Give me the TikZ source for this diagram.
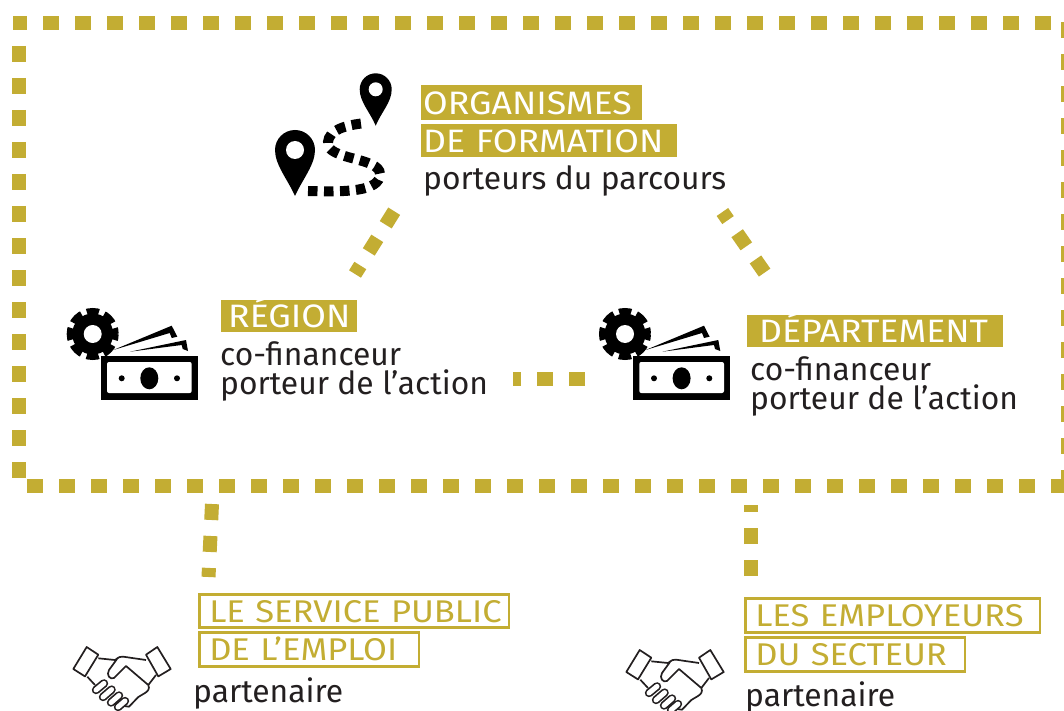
\documentclass[tikz,border=0pt]{standalone}
\usepackage{fontspec}
\setmainfont{Fira Sans}
\newfontfamily\tagfont[FakeStretch=1.1, WordSpace=0.8]{Fira Sans}
\definecolor{gold}{HTML}{C3AD33}
\definecolor{ink}{HTML}{231F20}
\tikzset{
	edgedash/.style={gold, line width=14pt, dash pattern=on 16pt off 16pt},
	tagfill/.style={fill=gold, text=white, anchor=north west, align=left, inner ysep=0pt, text height=23pt, text depth=0pt, font=\tagfont\fontsize{32.4}{32}\selectfont},
	tagline/.style={draw=gold, line width=2.5pt, text=gold, anchor=north west, align=left, inner ysep=0pt, text height=23pt, text depth=0pt, font=\tagfont\fontsize{31.4}{32}\selectfont},
	plain/.style={text=ink, anchor=base west, inner sep=0pt, font=\fontsize{31.8}{29}\selectfont},
	fund/.pic={
		\draw[line width=7pt, dash pattern=on 12pt off 5.67pt, dash phase=6pt] (0,0) circle (22.5);
		\fill (0,0) circle (20.5);
		\fill[white] (0,0) circle (9);
		\fill (20.6,16) -- (79,-8.3) -- (84.6,2.7) -- (79,4) -- (77,-1) -- cycle;
		\fill (37.3,17.7) -- (93.3,6) -- (95.3,17) -- (90,15) -- (89,11) -- cycle;
		\fill (8,21.7) rectangle (105.3,66);
		\fill[white, rounded corners=2pt] (14.3,28) rectangle (99,59);
		\fill (56.6,44.3) ellipse (9 and 11);
		\fill (29,44.3) circle (3);
		\fill (84.3,44.3) circle (3);
	},
	shake/.pic={
		\draw[ink, line width=1.7pt, line join=round] (13.7,0) -- (25.3,7.7) -- (12,29.4) -- (0.3,22) -- cycle;
		\draw[ink, line width=1.7pt, line join=round] (84.3,0) -- (97.7,22) -- (85.3,29.4) -- (73,7.7) -- cycle;
		\draw[ink, line width=1.7pt, line join=round] (25.3,11.3) -- (42,13) .. controls (46,10) and (48,9) .. (50.3,9.7) -- (73,13);
		\draw[ink, line width=1.7pt, line join=round] (44,12) -- (36,23) .. controls (33,28) and (37,33) .. (41,31) -- (53,19) -- (75.3,38) .. controls (77,42) and (75,44) .. (72,46) -- (65.3,50) -- (56,59.7) -- (51,59);
		\draw[ink, line width=1.7pt] (75.3,38) -- (83,28);
		\draw[ink, line width=1.7pt] (14.3,29.7) -- (22,38);
		\draw[ink, line width=1.7pt, double=white, double distance=5pt, line cap=round] (23,43) -- (31,36.4);
		\draw[ink, line width=1.7pt, double=white, double distance=5pt, line cap=round] (30,50) -- (38.6,42.6);
		\draw[ink, line width=1.7pt, double=white, double distance=5pt, line cap=round] (38,55.5) -- (46,48.5);
		\draw[ink, line width=1.7pt, double=white, double distance=5pt, line cap=round] (45,60) -- (52,54);
	}
}
\begin{document}
\begin{tikzpicture}[x=1pt, y=-1pt]
	\useasboundingbox (0,0) rectangle (1064,711);

	% cadre
	\coordinate (topL) at (13,23);
	\coordinate (topR) at (1064,23);
	\coordinate (leftT) at (19,46);
	\coordinate (leftB) at (19,480);
	\coordinate (botL) at (27,486);
	\coordinate (botR) at (1064,486);
	\coordinate (rightT) at (1068,22);
	\coordinate (rightB) at (1068,486);
	\draw[edgedash, dash phase=2pt] (topL) -- (topR);
	\draw[edgedash] (leftT) -- (leftB);
	\draw[edgedash] (botL) -- (botR);
	\draw[edgedash] (rightT) -- (rightB);

	% liens
	\coordinate (orgA) at (394.2,211.2);
	\coordinate (regA) at (355,274);
	\coordinate (orgB) at (764.6,272.6);
	\coordinate (depA) at (722.4,212);
	\coordinate (depB) at (585,379);
	\coordinate (regB) at (513,379);
	\coordinate (regC) at (212,504);
	\coordinate (speC) at (208.5,577);
	\coordinate (empC) at (751,576);
	\coordinate (depC) at (751,505);
	\draw[edgedash] (orgA) -- (regA);
	\draw[edgedash] (orgB) -- (depA);
	\draw[edgedash] (depB) -- (regB);
	\draw[edgedash] (regC) -- (speC);
	\draw[edgedash] (empC) -- (depC);

	% parcours
	\fill (295,196) .. controls (288,180) and (275,165) .. (275,150) arc[start angle=180, end angle=360, radius=20] .. controls (315,165) and (302,180) .. (295,196) -- cycle;
	\fill[white] (295,150) circle (9);
	\fill (375.7,125.7) .. controls (370,112) and (359.7,102) .. (359.7,89.3) arc[start angle=180, end angle=360, radius=16] .. controls (391.7,102) and (381.4,112) .. (375.7,125.7) -- cycle;
	\fill[white] (375.7,89.3) circle (7);
	\draw[line width=10pt, dash pattern=on 9.5pt off 6.5pt] (308,191) .. controls (345,192) and (380,192) .. (380,174) .. controls (380,157) and (325,160) .. (328,142) .. controls (329,130) and (345,125) .. (366,123);

	% icones
	\pic (fundR) at (92.7,334) {fund};
	\pic (fundD) at (625,334) {fund};
	\pic (shakeS) at (73,647) {shake};
	\pic (shakeE) at (626,650) {shake};

	% textes
	\node[tagfill, text width=217pt, inner xsep=2pt, minimum height=35pt] (orgTag) at (421,85) {ORGANISMES};
	\node[tagfill, text width=252pt, inner xsep=2pt, minimum height=33pt] (forTag) at (421,124) {DE FORMATION};
	\node[plain] (orgText) at (423,189.5) {porteurs du parcours};
	\node[tagfill, text width=122pt, inner xsep=7pt, minimum height=32pt] (regTag) at (221,300) {RÉGION};
	\node[plain] (regFin) at (220,365) {co-financeur};
	\node[plain] (regAct) at (220,394) {porteur de l’action};
	\node[tagfill, text width=232pt, inner xsep=12pt, minimum height=32pt] (depTag) at (747,315) {DÉPARTEMENT};
	\node[plain] (depFin) at (750,380) {co-financeur};
	\node[plain] (depAct) at (750,409) {porteur de l’action};
	\node[tagline, text width=289.5pt, inner xsep=10pt, minimum height=33pt] (speTag) at (198,593) {\mbox{LE SERVICE PUBLIC}};
	\node[tagline, text width=199.5pt, inner xsep=10pt, minimum height=34pt] (emplTag) at (198,631) {\mbox{DE L’EMPLOI}};
	\node[plain] (spePart) at (193,702) {partenaire};
	\node[tagline, text width=274.5pt, inner xsep=10pt, minimum height=34pt] (empTag) at (744,597) {\mbox{LES EMPLOYEURS}};
	\node[tagline, text width=199.5pt, inner xsep=10pt, minimum height=34pt] (secTag) at (744,636) {\mbox{DU SECTEUR}};
	\node[plain] (empPart) at (745,706) {partenaire};
\end{tikzpicture}
\end{document}
